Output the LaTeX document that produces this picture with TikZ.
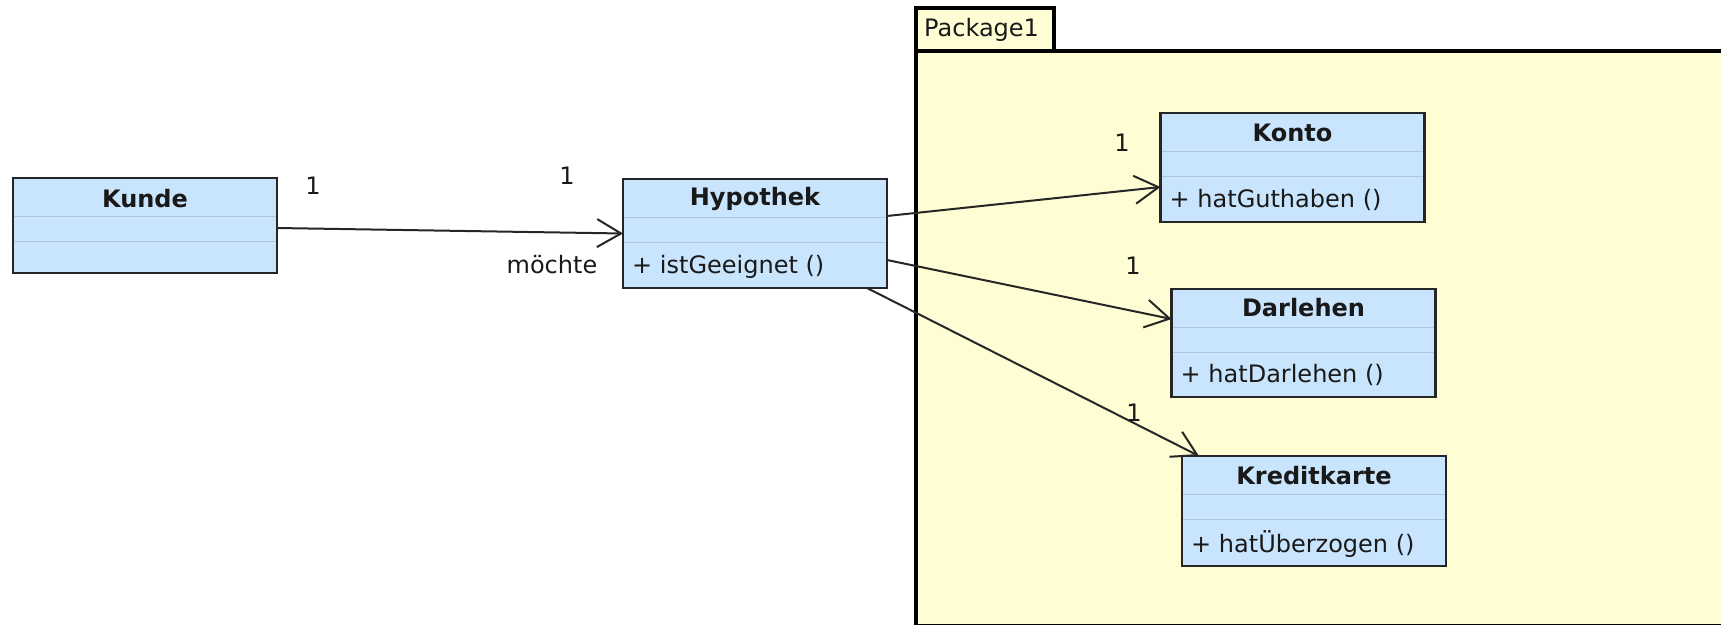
\documentclass[tikz,border=0pt]{standalone}
\usepackage{fontspec}
\setmainfont{DejaVu Sans}
\usetikzlibrary{arrows.meta}
\definecolor{boxfill}{HTML}{C9E4FD}
\definecolor{pkgfill}{HTML}{FEFDD3}
\definecolor{sepcol}{HTML}{AFC6D9}
\begin{document}
\begin{tikzpicture}[x=1pt,y=-1pt,
  classbox/.style={draw=black!85, line width=2.5pt, fill=boxfill, minimum width=264pt, inner sep=0pt, outer sep=0pt},
  sepline/.style={draw=sepcol, line width=1pt},
  ctitle/.style={font=\fontsize{24}{28}\selectfont\bfseries, text=black!90, inner sep=0pt},
  cmeth/.style={font=\fontsize{24}{28}\selectfont, anchor=west, inner sep=0pt, text=black!90},
  assoc/.style={draw=black!85, line width=2pt, -{Straight Barb[length=24pt,width=28pt]}},
  mult/.style={font=\fontsize{24}{28}\selectfont, inner sep=0pt, text=black!90},
  pkg/.style={draw=black, line width=4pt, fill=pkgfill}
]
\useasboundingbox (0,0) rectangle (1721,624);
\clip (0,0) rectangle (1721,624);

% package
\path[pkg] (916,51) rectangle (1745,625.5);
\path[pkg] (916,8) rectangle (1054,51);
\node[mult, anchor=west] (pkglabel) at (924,30) {Package1};

% classes
\node[classbox, minimum height=95pt] (kunde) at (145,225.5) {};
\node[classbox, minimum height=109pt] (hyp) at (755,233.5) {};
\node[classbox, minimum height=109pt] (konto) at (1292.5,167.5) {};
\node[classbox, minimum height=108pt] (darl) at (1303.5,343) {};
\node[classbox, minimum height=110pt] (kredit) at (1314,511) {};

\foreach \n in {kunde,hyp,konto,darl,kredit}{
  \draw[sepline] ([yshift=-38pt,xshift=1.3pt]\n.north west) -- ([yshift=-38pt,xshift=-1.3pt]\n.north east);
  \draw[sepline] ([yshift=-63pt,xshift=1.3pt]\n.north west) -- ([yshift=-63pt,xshift=-1.3pt]\n.north east);
}

\node[ctitle] (kundeT) at ([yshift=-21pt]kunde.north) {Kunde};
\node[ctitle] (hypT) at ([yshift=-20pt]hyp.north) {Hypothek};
\node[ctitle] (kontoT) at ([yshift=-20pt]konto.north) {Konto};
\node[ctitle] (darlT) at ([yshift=-19pt]darl.north) {Darlehen};
\node[ctitle] (kreditT) at ([yshift=-20pt]kredit.north) {Kreditkarte};

\node[cmeth] (hypM) at ([xshift=9pt,yshift=-88pt]hyp.north west) {+ istGeeignet ()};
\node[cmeth] (kontoM) at ([xshift=9pt,yshift=-87pt]konto.north west) {+ hatGuthaben ()};
\node[cmeth] (darlM) at ([xshift=9pt,yshift=-86pt]darl.north west) {+ hatDarlehen ()};
\node[cmeth] (kreditM) at ([xshift=9pt,yshift=-88pt]kredit.north west) {+ hatÜberzogen ()};

% associations
\draw[assoc] ([yshift=-2.5pt]kunde.east) -- (hyp.west);
\draw[assoc] ([yshift=-37pt]hyp.north east) -- ([yshift=-74pt]konto.north west);
\draw[assoc] ([yshift=-81pt]hyp.north east) -- ([yshift=-30pt]darl.north west);
\draw[assoc] ([xshift=-20pt]hyp.south east) -- ([xshift=17pt]kredit.north west);

% multiplicities and role
\node[mult] (m1) at (313,186) {1};
\node[mult] (m2) at (567,176) {1};
\node[mult] (role) at (552,265) {möchte};
\node[mult] (m3) at (1122,143) {1};
\node[mult] (m4) at (1133,266) {1};
\node[mult] (m5) at (1134,413) {1};
\end{tikzpicture}
\end{document}
